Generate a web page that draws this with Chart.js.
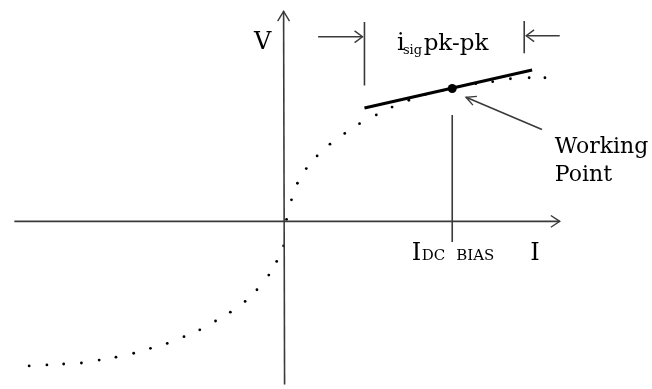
<!DOCTYPE html>
<html>
<head>
<meta charset="utf-8">
<script src="https://cdn.jsdelivr.net/npm/chart.js@4"></script>
<style>
  body { margin: 0; background: #fff; }
  #wrap { width: 652px; height: 389px; }
</style>
</head>
<body>
<div id="wrap"><canvas id="curveChart" width="652" height="389"></canvas></div>
<script>
// diode-like V/I characteristic, arbitrary units (origin where the axes cross)
const curveI = [-26.0, -24.2, -22.5, -20.7, -18.9, -17.2, -15.4, -13.7, -12.0, -10.3, -8.7, -7.1, -5.6, -4.1, -2.9, -1.7, -0.9, -0.2, 0.1, 0.6, 1.2, 2.1, 3.2, 4.5, 6.0, 7.5, 9.2, 10.8, 12.5, 14.2, 15.9, 17.6, 19.3, 21.0, 22.8, 24.7, 26.3];
const curveV = [-14.8, -14.7, -14.6, -14.5, -14.2, -13.9, -13.5, -13.0, -12.5, -11.8, -11.1, -10.2, -9.3, -8.2, -7.0, -5.5, -4.1, -2.5, 0.2, 2.2, 3.9, 5.4, 6.7, 7.9, 9.0, 10.0, 10.9, 11.7, 12.4, 13.0, 13.4, 13.8, 14.1, 14.3, 14.6, 14.7, 14.7];

// small-signal tangent through the working point
const tangentI = [8.0, 25.0];
const tangentV = [11.6, 15.5];
const biasI = 16.9;
const biasV = 13.6;

// signal swing markers
const swingLeft = 8.0;
const swingRight = 24.2;

// axis extents
const axisI = [-27.5, 27.8];
const axisV = [-16.7, 21.5];

function pts(xs, ys) {
    return xs.map((x, i) => ({ x: x, y: ys[i] }));
}

function seg(points, width, color) {
    return {
        data: points,
        showLine: true,
        borderColor: color,
        borderWidth: width,
        pointRadius: 0,
        fill: false,
        tension: 0
    };
}

const axisColor = "#3a3a3a";

const datasets = [
    // axes
    seg([{ x: axisI[0], y: 0 }, { x: axisI[1], y: 0 }], 1.6, axisColor),
    seg([{ x: axisI[1] - 0.9, y: 0.6 }, { x: axisI[1], y: 0 }, { x: axisI[1] - 0.9, y: -0.6 }], 1.4, axisColor),
    seg([{ x: -0.1, y: axisV[0] }, { x: -0.2, y: axisV[1] }], 1.6, axisColor),
    seg([{ x: -0.8, y: axisV[1] - 1.0 }, { x: -0.2, y: axisV[1] }, { x: 0.4, y: axisV[1] - 1.0 }], 1.4, axisColor),
    // bias line
    seg([{ x: biasI, y: 10.9 }, { x: biasI, y: -2.1 }], 1.6, axisColor),
    // swing markers
    seg([{ x: swingLeft, y: 20.4 }, { x: swingLeft, y: 13.9 }], 1.6, axisColor),
    seg([{ x: 3.3, y: 18.9 }, { x: swingLeft - 0.2, y: 18.9 }], 1.4, axisColor),
    seg([{ x: 7.0, y: 19.5 }, { x: swingLeft - 0.2, y: 18.9 }, { x: 7.0, y: 18.3 }], 1.4, axisColor),
    seg([{ x: swingRight, y: 20.5 }, { x: swingRight, y: 17.2 }], 1.6, axisColor),
    seg([{ x: 27.8, y: 19.0 }, { x: swingRight + 0.2, y: 19.0 }], 1.4, axisColor),
    seg([{ x: 25.2, y: 19.6 }, { x: swingRight + 0.2, y: 19.0 }, { x: 25.2, y: 18.4 }], 1.4, axisColor),
    // pointer to working point
    seg([{ x: 26.0, y: 9.4 }, { x: 18.3, y: 12.7 }], 1.6, axisColor),
    seg([{ x: 19.0, y: 11.9 }, { x: 18.3, y: 12.7 }, { x: 19.4, y: 12.8 }], 1.4, axisColor),
    // dotted characteristic
    {
        data: pts(curveI, curveV),
        showLine: false,
        pointRadius: 1.4,
        pointBackgroundColor: "#000",
        pointBorderWidth: 0
    },
    // tangent
    seg(pts(tangentI, tangentV), 3.2, "#000"),
    {
        data: [{ x: biasI, y: biasV }],
        showLine: false,
        pointRadius: 4.5,
        pointBackgroundColor: "#000",
        pointBorderWidth: 0
    }
];

// text labels: [text, x, y, size]
const labels = [
    ["V", -3.2, 17.6, 24],
    ["i", 11.3, 17.5, 24],
    ["sig", 11.9, 17.1, 13],
    ["pk-pk", 14.0, 17.5, 23],
    ["I", 12.8, -4.0, 24],
    ["DC", 13.8, -4.0, 15],
    ["BIAS", 17.3, -4.0, 15],
    ["I", 24.8, -4.0, 24],
    ["Working", 27.3, 7.0, 22],
    ["Point", 27.3, 4.1, 22]
];

const textPlugin = {
    id: "textLabels",
    afterDatasetsDraw(chart) {
        const ctx = chart.ctx;
        const xs = chart.scales.x, ys = chart.scales.y;
        ctx.save();
        ctx.fillStyle = "#000";
        ctx.textBaseline = "alphabetic";
        ctx.textAlign = "left";
        labels.forEach(l => {
            ctx.font = l[3] + "px 'DejaVu Serif', serif";
            ctx.fillText(l[0], xs.getPixelForValue(l[1]), ys.getPixelForValue(l[2]));
        });
        ctx.restore();
    }
};

new Chart(document.getElementById("curveChart"), {
    type: "scatter",
    data: { datasets: datasets },
    options: {
        responsive: false,
        animation: false,
        clip: false,
        layout: { padding: 0 },
        plugins: {
            legend: { display: false },
            tooltip: { enabled: false }
        },
        scales: {
            x: { type: "linear", min: -28.5, max: 36.7, display: false },
            y: { type: "linear", min: -16.7, max: 22.2, display: false }
        }
    },
    plugins: [textPlugin]
});
</script>
</body>
</html>
